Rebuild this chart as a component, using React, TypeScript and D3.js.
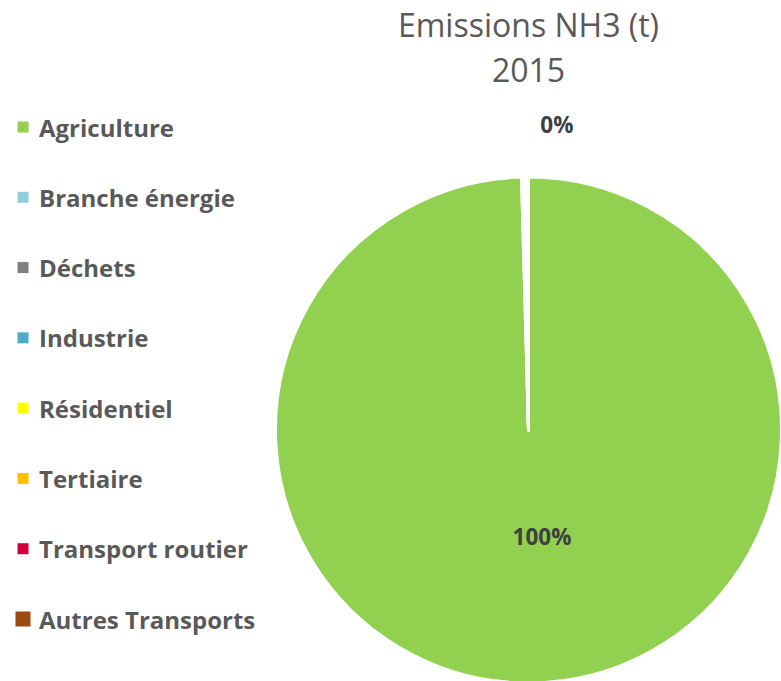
import React from "react";
import * as d3 from "d3";

const categories = [
  "Agriculture",
  "Branche énergie",
  "Déchets",
  "Industrie",
  "Résidentiel",
  "Tertiaire",
  "Transport routier",
  "Autres Transports",
];
const values = [99.56, 0.06, 0.06, 0.07, 0.06, 0.06, 0.07, 0.06];
const colors = [
  "#92D050",
  "#92CDDC",
  "#808080",
  "#4BACC6",
  "#FFFF00",
  "#FFC000",
  "#D0003A",
  "#9C4A12",
];
const titleLines = ["Emissions NH3 (t)", "2015"];

const W = 781;
const H = 681;

export default function App() {
  const cx = 528.5;
  const cy = 430;
  const r = 253;
  const pie = d3
    .pie<number>()
    .sort(null)
    .startAngle(0)
    .endAngle(2 * Math.PI)(values);
  const arc = d3.arc<d3.PieArcDatum<number>>().innerRadius(0).outerRadius(r);
  const total = d3.sum(values);
  const fmt = (v: number) => `${Math.round((v / total) * 100)}%`;

  const inner = d3.arc<d3.PieArcDatum<number>>().innerRadius(107).outerRadius(107);
  const outer = d3.arc<d3.PieArcDatum<number>>().innerRadius(306).outerRadius(306);
  const agri = pie[0];
  const lastSmall = pie[pie.length - 1];
  const [ax, ay] = inner.centroid(agri);
  const [ox, oy] = outer.centroid(lastSmall);

  const legendY = d3.scalePoint<string>().domain(categories).range([127, 619]);

  return (
    <svg
      width={W}
      height={H}
      style={{ position: "absolute", left: 0, top: 0, display: "block" }}
    >
      <rect width={W} height={H} fill="#ffffff" />
      {titleLines.map((t, i) => (
        <text
          key={t}
          x={cx}
          y={37 + i * 45}
          textAnchor="middle"
          fontFamily="'Open Sans', sans-serif"
          fontSize={32}
          fill="#595959"
        >
          {t}
        </text>
      ))}
      <g transform={`translate(${cx},${cy})`}>
        {pie.map((d, i) => (
          <path
            key={categories[i]}
            d={arc(d) || ""}
            fill={colors[i]}
            stroke="#ffffff"
            strokeWidth={3}
            strokeLinejoin="round"
          />
        ))}
        <text
          x={ax + 12}
          y={ay}
          textAnchor="middle"
          dominantBaseline="central"
          fontFamily="'Open Sans', sans-serif"
          fontWeight="bold"
          fontSize={22.5}
          fill="#404040"
        >
          {fmt(values[0])}
        </text>
        <text
          x={ox + 29}
          y={oy}
          textAnchor="middle"
          dominantBaseline="central"
          fontFamily="'Open Sans', sans-serif"
          fontWeight="bold"
          fontSize={22.5}
          fill="#404040"
        >
          {fmt(values[values.length - 1])}
        </text>
      </g>
      {categories.map((c, i) => {
        const y = legendY(c) as number;
        const s = i === categories.length - 1 ? 15 : 11;
        return (
          <g key={c}>
            <rect x={23 - s / 2} y={y - s / 2} width={s} height={s} fill={colors[i]} />
            <text
              x={39}
              y={y}
              dominantBaseline="central"
              fontFamily="'Open Sans', sans-serif"
              fontWeight="bold"
              fontSize={24}
              fill="#595959"
            >
              {c}
            </text>
          </g>
        );
      })}
    </svg>
  );
}
